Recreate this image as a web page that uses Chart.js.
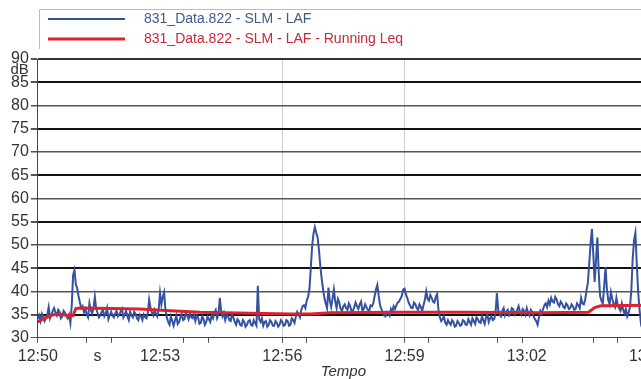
<!DOCTYPE html>
<html lang="it">
<head>
  <meta charset="UTF-8" />
  <title>831_Data.822 - SLM - LAF</title>
  <script src="https://cdn.jsdelivr.net/npm/chart.js"></script>
  <style>
    html, body { margin: 0; padding: 0; background: #fff; overflow: hidden; }
    /* the plot runs a little past the right edge of the window, like the export */
    #wrap { position: relative; width: 673px; height: 379px; }
  </style>
</head>
<body>
  <div id="wrap"><canvas id="leqChart"></canvas></div>

  <script>
    // misura dalle 12:50:00, un campione LAF ogni 2 s
    const STEP_S = 2;

    const LAF_DB = [
      34.0, 34.8, 33.6, 35.2, 34.6, 33.6, 34.2, 35.0, 36.6, 34.2, 35.0, 35.8, 36.4, 35.4, 34.8, 36.0,
      35.6, 34.2, 34.6, 35.8, 35.4, 34.8, 34.2, 35.0, 33.2, 37.0, 43.5, 44.6, 41.5, 40.6, 39.0, 37.6,
      36.4, 36.8, 35.5, 36.2, 35.0, 34.4, 37.4, 36.0, 35.2, 36.4, 38.8, 36.2, 35.4, 34.4, 34.8, 35.6,
      36.0, 34.6, 35.2, 36.4, 34.0, 34.8, 35.6, 34.8, 34.4, 35.2, 35.8, 34.6, 35.0, 35.6, 36.2, 34.4,
      35.0, 35.8, 34.6, 33.8, 35.6, 34.8, 34.4, 35.6, 35.2, 34.2, 33.8, 35.0, 34.6, 33.8, 35.0, 34.4,
      34.2, 35.4, 38.2, 36.4, 35.4, 34.8, 36.0, 35.2, 34.6, 36.0, 39.6, 37.2, 38.8, 39.8, 36.0, 34.4,
      33.4, 32.8, 34.6, 33.6, 32.6, 33.8, 34.8, 33.0, 33.4, 34.4, 35.2, 33.8, 34.0, 35.4, 34.8, 34.0,
      35.2, 34.4, 34.2, 35.0, 33.6, 34.8, 34.4, 33.0, 33.2, 34.6, 34.0, 32.8, 33.4, 34.6, 34.0, 33.4,
      34.8, 34.2, 35.4, 36.0, 34.2, 35.0, 38.6, 35.8, 34.6, 35.4, 33.8, 34.8, 34.8, 33.8, 33.6, 35.0,
      34.4, 33.4, 32.8, 34.0, 33.6, 32.8, 32.6, 33.8, 33.4, 32.4, 32.8, 33.6, 33.8, 32.8, 32.6, 33.8,
      33.2, 32.6, 41.2, 34.0, 33.4, 34.2, 32.6, 33.4, 33.6, 32.4, 32.8, 33.8, 33.4, 32.6, 32.6, 33.6,
      33.2, 32.4, 32.8, 33.8, 33.4, 32.6, 32.8, 33.8, 33.6, 32.6, 32.8, 34.2, 33.8, 33.2, 34.6, 35.6,
      35.0, 34.4, 36.0, 36.8, 37.0, 36.4, 38.0, 38.8, 40.5, 45.0, 49.8, 52.4, 53.8, 52.6, 51.6, 49.0,
      45.5, 42.8, 40.5, 38.6, 37.4, 36.4, 40.8, 38.0, 36.6, 38.4, 40.4, 37.8, 36.4, 38.4, 37.6, 36.2,
      35.8, 36.8, 37.2, 36.4, 36.0, 37.4, 36.8, 35.6, 35.8, 36.6, 37.6, 36.8, 36.2, 37.2, 37.8, 35.8,
      36.2, 37.2, 36.6, 36.0, 35.8, 37.0, 36.8, 37.4, 39.0, 40.4, 41.4, 39.0, 37.0, 36.2, 35.4, 34.8,
      34.6, 35.6, 35.4, 34.8, 36.2, 35.6, 36.8, 36.2, 37.0, 37.6, 37.8, 38.4, 39.0, 40.4, 40.6, 39.4,
      38.6, 37.6, 37.0, 36.4, 36.4, 37.6, 37.2, 36.4, 36.0, 37.2, 36.6, 35.8, 37.0, 38.2, 40.0, 38.4,
      38.0, 39.2, 38.6, 37.8, 37.6, 38.8, 39.4, 36.0, 34.4, 33.6, 34.0, 34.6, 33.2, 32.8, 33.8, 33.2,
      32.8, 33.8, 33.4, 32.4, 32.6, 33.6, 33.2, 32.6, 32.8, 33.8, 33.6, 32.8, 32.8, 34.0, 33.4, 32.8,
      34.2, 33.6, 33.0, 34.4, 34.0, 33.4, 33.2, 34.6, 33.8, 33.0, 34.4, 35.0, 33.4, 34.2, 34.6, 33.8,
      34.0, 35.2, 39.6, 36.0, 35.0, 34.6, 35.8, 36.4, 34.8, 35.6, 36.0, 34.8, 35.2, 36.4, 36.2, 35.0,
      35.4, 36.0, 36.8, 35.6, 35.0, 36.2, 35.8, 35.0, 36.4, 35.4, 34.8, 36.0, 35.6, 34.6, 34.0, 33.6,
      32.8, 34.4, 35.8, 35.2, 36.2, 37.0, 37.4, 36.6, 38.0, 37.2, 38.6, 37.8, 37.6, 38.8, 38.2, 37.2,
      36.8, 37.8, 37.4, 36.6, 36.4, 37.4, 37.0, 36.2, 36.4, 37.2, 36.8, 36.0, 36.2, 37.4, 37.0, 36.4,
      38.6, 37.4, 37.2, 38.2, 40.2, 41.8, 46.0, 50.2, 53.4, 48.0, 42.0, 46.8, 51.6, 44.0, 39.0, 38.0,
      37.4, 41.0, 45.2, 40.6, 38.2, 37.2, 39.8, 38.4, 37.2, 36.6, 38.6, 37.0, 36.4, 35.8, 37.4, 36.0,
      35.2, 36.2, 34.6, 35.4, 36.6, 40.2, 47.0, 51.0, 52.6, 46.0, 40.0, 36.2, 33.4, 34.6, 36.0, 35.2,
      36.4, 36.8, 35.8
    ];

    // Leq progressivo (secondi dall'inizio, dB)
    const LEQ_T  = [0, 10, 21, 32, 44, 52, 56, 62, 150, 195, 239, 313, 372, 401, 431, 534, 637, 740, 811, 820, 829, 900];
    const LEQ_DB = [33.4, 34.2, 34.9, 35.1, 34.8, 34.8, 36.3, 36.4, 36.2, 35.8, 35.5, 35.3, 35.1, 35.1, 35.4, 35.5, 35.5, 35.4, 35.5, 36.5, 36.9, 37.0];

    // asse tempo
    const TIME_TICKS  = [0, 88, 180, 360, 540, 720, 900];
    const TIME_LABELS = ['12:50', 's', '12:53', '12:56', '12:59', '13:02', '13:05'];
    const TIME_MARKS  = [0, 72, 108, 215, 251, 360, 395, 540, 575, 677, 714, 818, 853];
    const TIME_GRID   = [360, 540];

    // asse dB: etichette ogni 5, due tacche intermedie
    const DB_MIN = 30, DB_MAX = 90, DB_STEP = 5, DB_MINOR = 3;

    const SERIES = [
      { label: '831_Data.822 - SLM - LAF', color: '#3452a0', text: '#40598c', width: 2 },
      { label: '831_Data.822 - SLM - LAF - Running Leq', color: '#d9232f', text: '#c52a38', width: 3 }
    ];

    const lafPoints = LAF_DB.map((v, i) => ({ x: i * STEP_S, y: v }));
    const leqPoints = LEQ_T.map((t, i) => ({ x: t, y: LEQ_DB[i] }));

    Chart.defaults.font.family = '"Liberation Sans", Arial, sans-serif';
    Chart.defaults.color = '#333';

    // riquadro della legenda in alto, linee lunghe come nell'esportazione del fonometro
    const boxLegend = {
      id: 'boxLegend',
      afterDraw(chart) {
        const ctx = chart.ctx;
        ctx.save();
        ctx.strokeStyle = '#bdbdbd';
        ctx.lineWidth = 1;
        ctx.beginPath();
        ctx.moveTo(39.5, 49);
        ctx.lineTo(39.5, 9.5);
        ctx.lineTo(chart.width, 9.5);
        ctx.stroke();
        ctx.font = '14px "Liberation Sans", Arial, sans-serif';
        ctx.textBaseline = 'middle';
        SERIES.forEach((s, i) => {
          const y = 19 + i * 20;
          ctx.strokeStyle = s.color;
          ctx.lineWidth = s.width;
          ctx.beginPath();
          ctx.moveTo(48, y);
          ctx.lineTo(125, y);
          ctx.stroke();
          ctx.fillStyle = s.text;
          ctx.fillText(s.label, 144, y);
        });
        ctx.restore();
      }
    };

    // unità sotto l'etichetta 90
    const dbUnit = {
      id: 'dbUnit',
      afterDraw(chart) {
        const ctx = chart.ctx;
        const y = chart.scales.y;
        ctx.save();
        ctx.font = '15px "Liberation Sans", Arial, sans-serif';
        ctx.fillStyle = '#333';
        ctx.textAlign = 'right';
        ctx.textBaseline = 'middle';
        ctx.fillText('dB', y.right - 9, y.getPixelForValue(DB_MAX) + 11);
        ctx.restore();
      }
    };

    const isMajor = (i) => i % DB_MINOR === 0;

    new Chart(document.getElementById('leqChart'), {
      type: 'line',
      data: {
        datasets: [
          {
            label: SERIES[1].label,
            data: leqPoints,
            borderColor: SERIES[1].color,
            borderWidth: SERIES[1].width,
            pointRadius: 0,
            order: 0
          },
          {
            label: SERIES[0].label,
            data: lafPoints,
            borderColor: SERIES[0].color,
            borderWidth: SERIES[0].width,
            pointRadius: 0,
            order: 1
          }
        ]
      },
      options: {
        responsive: true,
        maintainAspectRatio: false,
        animation: false,
        layout: { padding: { top: 59, left: 9, right: 0, bottom: 0 } },
        plugins: {
          legend: { display: false },
          tooltip: { enabled: false }
        },
        scales: {
          x: {
            type: 'linear',
            min: 0,
            max: TIME_TICKS[TIME_TICKS.length - 1],
            afterBuildTicks(scale) {
              const vals = Array.from(new Set([...TIME_TICKS, ...TIME_MARKS])).sort((a, b) => a - b);
              scale.ticks = vals.map(v => ({ value: v }));
            },
            ticks: {
              autoSkip: false,
              maxRotation: 0,
              padding: 4,
              color: '#333',
              font: { size: 16 },
              callback(value) {
                const k = TIME_TICKS.indexOf(value);
                return k >= 0 ? TIME_LABELS[k] : '';
              }
            },
            grid: {
              tickLength: 5,
              color: (c) => TIME_GRID.includes(c.tick && c.tick.value) ? '#cfcfcf' : 'rgba(0,0,0,0)',
              lineWidth: 1,
              tickColor: (c) => TIME_MARKS.includes(c.tick && c.tick.value) ? '#555' : 'rgba(0,0,0,0)'
            },
            border: { display: true, color: '#444', width: 1 },
            title: {
              display: true,
              text: 'Tempo',
              color: '#333',
              font: { size: 15, style: 'italic' },
              padding: { top: -7, bottom: -2 }
            }
          },
          y: {
            min: DB_MIN,
            max: DB_MAX,
            afterBuildTicks(scale) {
              const n = (DB_MAX - DB_MIN) / DB_STEP * DB_MINOR;
              const ticks = [];
              for (let k = 0; k <= n; k++) ticks.push({ value: DB_MIN + k * DB_STEP / DB_MINOR });
              scale.ticks = ticks;
            },
            ticks: {
              padding: 2,
              color: '#333',
              font: { size: 16 },
              callback(value, index) {
                return isMajor(index) ? String(Math.round(value)) : '';
              }
            },
            grid: {
              tickLength: 7,
              tickColor: '#555',
              color(c) {
                if (!isMajor(c.index)) return 'rgba(0,0,0,0)';
                const m = c.index / DB_MINOR;
                if (m === 0) return '#444';
                if (m === 12) return '#333';
                return m % 2 === 1 ? '#111' : '#555';
              },
              lineWidth(c) {
                if (!isMajor(c.index)) return 1;
                const m = c.index / DB_MINOR;
                if (m === 0) return 1;
                return m % 2 === 1 || m === 12 ? 2 : 1.5;
              }
            },
            border: { display: true, color: '#444', width: 1 }
          }
        }
      },
      plugins: [boxLegend, dbUnit]
    });
  </script>
</body>
</html>
